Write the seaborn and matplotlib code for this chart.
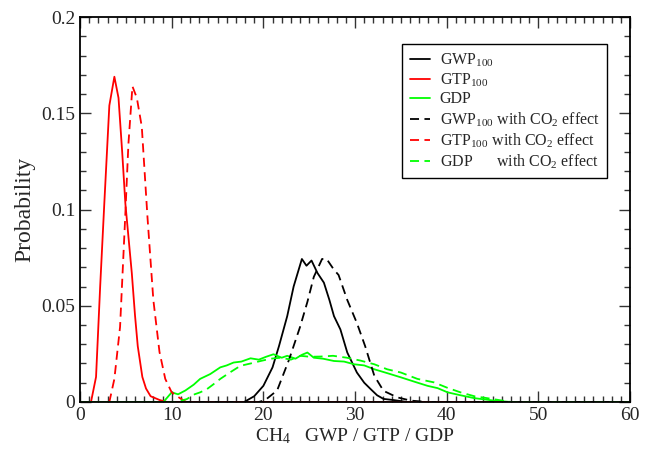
import numpy as np
import pandas as pd
import seaborn as sns
import matplotlib
matplotlib.use("Agg")
import matplotlib.pyplot as plt
from matplotlib.ticker import MultipleLocator

# Probability distributions of CH4 metrics (binned values)
gwp_x = [0, 17.9, 19.0, 20.0, 21.0, 21.7, 22.6, 23.3, 24.2, 24.7, 25.25, 25.9, 26.6, 27.2,
         27.7, 28.4, 29.15, 30.2, 31.0, 31.7, 32.4, 33.1, 34.2, 35.7, 60]
gwp_y = [0, 0, 0.003, 0.0084, 0.018, 0.029, 0.0446, 0.060, 0.0743, 0.0708, 0.0735, 0.067, 0.062, 0.053,
         0.0446, 0.0377, 0.0257, 0.0153, 0.010, 0.0067, 0.0035, 0.0016, 0.001, 0, 0]

gtp_x = [0, 1.2, 1.75, 2.2, 2.65, 3.2, 3.75, 4.2, 4.6, 4.95, 5.3, 5.65, 6.0, 6.3, 6.8, 7.2,
         7.7, 8.7, 9.5, 60]
gtp_y = [0, 0, 0.013, 0.060, 0.103, 0.154, 0.169, 0.158, 0.130, 0.103, 0.085, 0.067, 0.045, 0.029,
         0.013, 0.007, 0.003, 0.001, 0, 0]

gdp_x = [0, 9.1, 10.0, 10.7, 11.5, 12.4, 13.1, 14.2, 15.3, 16.0, 16.75, 17.6, 18.6, 19.5, 20.3,
         21.1, 22.0, 22.6, 23.5, 24.2, 24.8, 25.5, 26.5, 27.7, 28.8, 29.9, 31.0, 32.1, 33.5,
         35.0, 36.5, 37.9, 39.0, 40.1, 41.5, 43.0, 45.2, 47.0, 60]
gdp_y = [0, 0, 0.005, 0.004, 0.006, 0.009, 0.012, 0.0145, 0.018, 0.019, 0.0205, 0.021, 0.0227, 0.022, 0.0235,
         0.0248, 0.023, 0.024, 0.0225, 0.0245, 0.0257, 0.023, 0.0225, 0.0213, 0.021, 0.0196, 0.019, 0.017, 0.015,
         0.0128, 0.0105, 0.0084, 0.0072, 0.005, 0.0035, 0.002, 0.0007, 0, 0]

gwp_co2_x = [0, 19.5, 20.2, 21.5, 22.8, 24.0, 24.8, 25.5, 26.4, 26.9, 27.7, 28.2, 29.15, 30.2,
             31.1, 32.1, 33.1, 34.6, 36.1, 38.0, 60]
gwp_co2_y = [0, 0, 0.001, 0.006, 0.022, 0.039, 0.052, 0.065, 0.0743, 0.0743, 0.0687, 0.066, 0.053, 0.041,
             0.029, 0.0136, 0.0058, 0.0024, 0.0007, 0, 0]

gtp_co2_x = [0, 3.2, 3.75, 4.37, 4.92, 5.28, 5.72, 6.2, 6.74, 7.36, 8.0, 8.67, 9.3, 10.0, 10.9,
             11.6, 60]
gtp_co2_y = [0, 0, 0.012, 0.039, 0.095, 0.134, 0.164, 0.158, 0.143, 0.096, 0.053, 0.026, 0.012, 0.005,
             0.002, 0, 0]

gdp_co2_x = [0, 10.5, 11.65, 12.5, 13.1, 13.85, 14.5, 15.3, 16.4, 17.5, 18.6, 19.7, 20.8, 21.9,
             23.0, 24.0, 25.1, 26.2, 27.6, 29.1, 30.6, 32.1, 33.5, 35.0, 36.8, 38.6, 40.0, 41.5,
             43.0, 44.4, 47.0, 60]
gdp_co2_y = [0, 0, 0.0015, 0.004, 0.005, 0.0067, 0.009, 0.012, 0.0155, 0.0188, 0.020, 0.0213, 0.0225, 0.023,
             0.022, 0.024, 0.0235, 0.0236, 0.024, 0.023, 0.0215, 0.0196, 0.017, 0.0153, 0.012, 0.0102, 0.0075, 0.005,
             0.003, 0.002, 0, 0]

labels = [
    "GWP$_{100}$",
    "GTP$_{100}$",
    "GDP",
    "GWP$_{100}$ with CO$_2$ effect",
    "GTP$_{100}$ with CO$_2$ effect",
    "GDP      with CO$_2$ effect",
]
xs = [gwp_x, gtp_x, gdp_x, gwp_co2_x, gtp_co2_x, gdp_co2_x]
ys = [gwp_y, gtp_y, gdp_y, gwp_co2_y, gtp_co2_y, gdp_co2_y]
colors = ["black", "#ff0000", "#00ff00", "black", "#ff0000", "#00ff00"]
dashed = [False, False, False, True, True, True]

sns.set_style("ticks")
plt.rcParams["font.family"] = ["Liberation Serif", "DejaVu Serif"]
plt.rcParams["mathtext.fontset"] = "custom"
plt.rcParams["mathtext.rm"] = "Liberation Serif"
plt.rcParams["mathtext.it"] = "Liberation Serif:italic"

fig = plt.figure(figsize=(6.53, 4.49), dpi=100)
ax = fig.add_axes([0.1225, 0.1047, 0.8425, 0.8573])

for x, y, c, d, lab in zip(xs, ys, colors, dashed, labels):
    df = pd.DataFrame({"x": x, "y": y})
    sns.lineplot(data=df, x="x", y="y", ax=ax, color=c, lw=1.3,
                 label=lab, sort=False, estimator=None)
    if d:
        ax.lines[-1].set_dashes((5, 3))

ax.set_xlim(0, 60)
ax.set_ylim(0, 0.2)
ax.xaxis.set_major_locator(MultipleLocator(10))
ax.xaxis.set_minor_locator(MultipleLocator(1))
ax.yaxis.set_major_locator(MultipleLocator(0.05))
ax.yaxis.set_minor_locator(MultipleLocator(0.01))
ax.set_yticks([0, 0.05, 0.1, 0.15, 0.2])
ax.set_yticklabels(["0", "0.05", "0.1", "0.15", "0.2"])
ax.tick_params(which="both", direction="in", top=True, right=True, labelsize=14,
               color="#333333", width=1.0)
ax.tick_params(which="major", length=8)
ax.tick_params(which="minor", length=4)
for s in ax.spines.values():
    s.set_linewidth(1.3)
    s.set_color("black")

ax.set_xlabel("CH$_4$   GWP / GTP / GDP", fontsize=14, labelpad=2)
ax.set_ylabel("Probability", fontsize=17, labelpad=4)

leg = ax.legend(loc="upper right", bbox_to_anchor=(0.958, 0.93), borderaxespad=0,
                fancybox=False, framealpha=1, edgecolor="black", fontsize=11.5,
                handlelength=1.3, handletextpad=0.6, labelspacing=0.17, borderpad=0.45)
leg.get_frame().set_linewidth(1.0)

fig.savefig("out.png", dpi=100)
